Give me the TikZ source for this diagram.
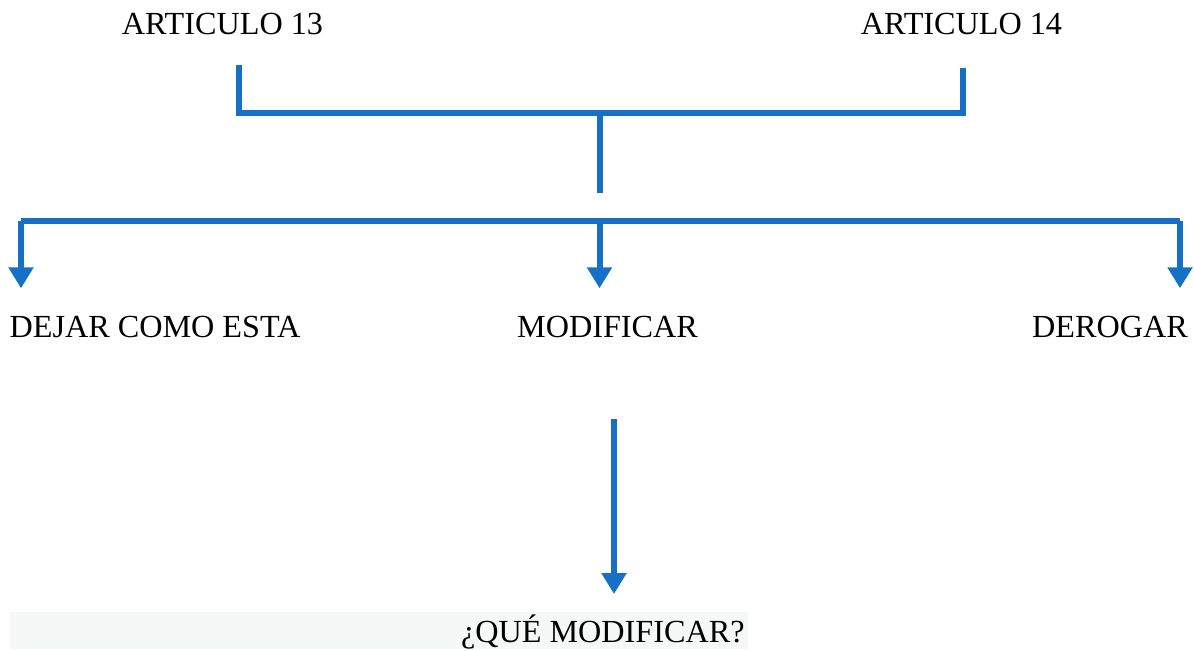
\documentclass[tikz,border=0pt]{standalone}
\usepackage{fontspec}
\setmainfont{Liberation Serif}
\usetikzlibrary{arrows.meta}

\definecolor{linkblue}{RGB}{21,112,198}
\definecolor{boxgray}{RGB}{246,248,248}

\tikzset{
    label/.style={anchor=base, inner sep=0pt, font=\fontsize{16.1}{19}\selectfont},
    link/.style={draw=linkblue, line width=3pt, line join=miter},
    arrowtip/.style={-{Triangle[width=12pt, length=10.5pt]}, linkblue}
}

\begin{document}
\begin{tikzpicture}[x=0.5pt, y=-0.5pt]
    \useasboundingbox (0,0) rectangle (1194,650);

    \node[label] (a13) at (222.5,34) {ARTICULO 13};
    \node[label] (a14) at (961.5,34) {ARTICULO 14};
    \node[label] (dejar) at (155,337) {DEJAR COMO ESTA};
    \node[label] (modif) at (607.5,337) {MODIFICAR};
    \node[label] (derog) at (1110,337) {DEROGAR};

    \node[fill=boxgray, inner sep=0pt, minimum width=369pt, minimum height=18.5pt,
      anchor=north west] (qbox) at (10,612) {};
    \node[label, anchor=base east] (qmod) at (745,642) {¿QUÉ MODIFICAR?};

    \coordinate (l13) at (239,65);
    \coordinate (l14) at (963,68);
    \coordinate (hub) at (599.5,113);
    \coordinate (stub) at (599.5,193);
    \coordinate (bl) at (21,221);
    \coordinate (br) at (1180,221);
    \coordinate (down) at (614,419);

    \path[link]
      (l13) |- (hub) -| (l14)
      (hub) -- (stub)
      (bl) -- (br);

    \path[link]
      (bl) edge[arrowtip, shorten >=13.5pt] (bl |- dejar.north)
      (hub |- bl) edge[arrowtip, shorten >=13.5pt] (hub |- modif.north)
      (br) edge[arrowtip, shorten >=13.5pt] (br |- derog.north)
      (down) edge[arrowtip, shorten >=9pt] (down |- qbox.north);
  \end{tikzpicture}
\end{document}
